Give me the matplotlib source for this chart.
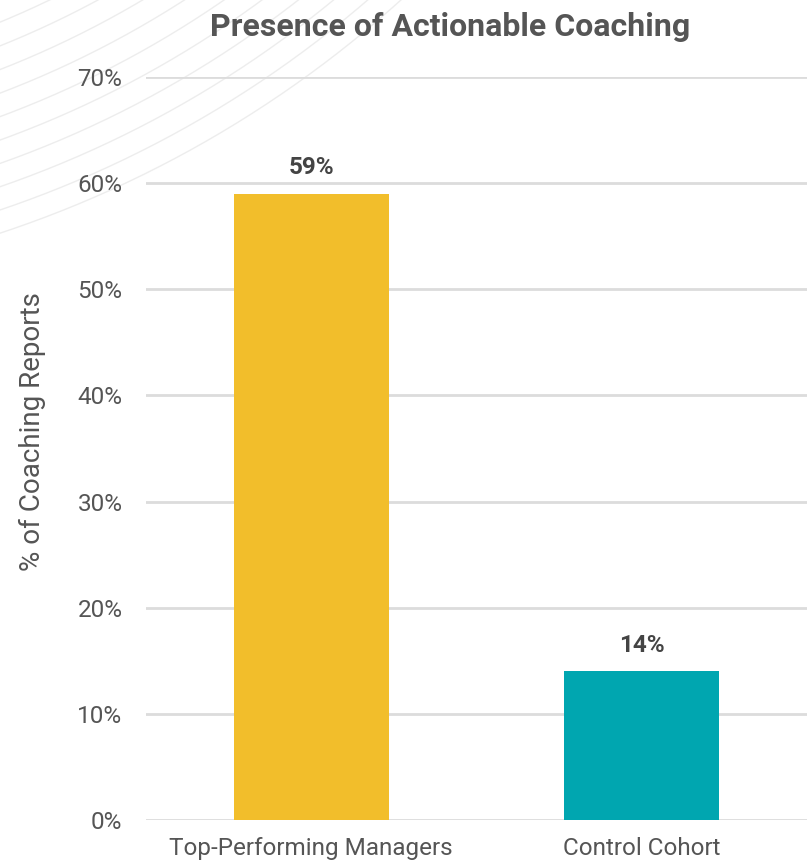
import numpy as np
import matplotlib
matplotlib.use("Agg")
import matplotlib.pyplot as plt

plt.rcParams['font.family'] = ['Roboto', 'DejaVu Sans']

# data
categories = ['Top-Performing Managers', 'Control Cohort']
values = [59, 14]
bar_colors = ['#F2BE2B', '#00A6B0']
yticks = [0, 10, 20, 30, 40, 50, 60, 70]

W, H = 807, 861
fig = plt.figure(figsize=(W / 100, H / 100), dpi=100)

# faint decorative arcs in the top-left corner
bg = fig.add_axes([0, 0, 1, 1], zorder=0)
bg.set_xlim(0, W)
bg.set_ylim(H, 0)
bg.axis('off')
t = np.linspace(0, np.pi / 2, 400)
for r in np.arange(905, 1135, 22):
    bg.plot(-353 + r * np.sin(t), -835 + r * np.cos(t), color='#EDEDED', lw=1.0)

ax = fig.add_axes([146 / W, (H - 820) / H, 1 - 146 / W, (820 - 77) / H], zorder=1)
ax.patch.set_alpha(0)
x = np.arange(len(categories))
ax.bar(x, values, width=0.47, color=bar_colors, zorder=3)
for xi, v in zip(x, values):
    ax.text(xi, v + 1.4, f'{v}%', ha='center', va='bottom', fontsize=17.5,
            fontweight='bold', color='#444444')

ax.set_xlim(-0.5, 1.5)
ax.set_ylim(0, 70)
ax.set_yticks(yticks)
ax.set_yticklabels([f'{v}%' for v in yticks])
ax.set_xticks(x)
ax.set_xticklabels(categories)
ax.tick_params(axis='both', length=0, labelsize=17.5, colors='#555555')
ax.tick_params(axis='y', pad=17)
ax.tick_params(axis='x', pad=12)
ax.grid(axis='y', color='#DCDCDC', lw=2, zorder=0)
for s in ax.spines.values():
    s.set_visible(False)

fig.text(32 / W, 1 - 432 / H, '% of Coaching Reports', rotation=90, ha='center', va='center',
         fontsize=20, color='#555555')
fig.text(450 / W, 1 - 27 / H, 'Presence of Actionable Coaching', ha='center', va='center',
         fontsize=23, fontweight='bold', color='#555555')

fig.savefig('out.png', dpi=100)
